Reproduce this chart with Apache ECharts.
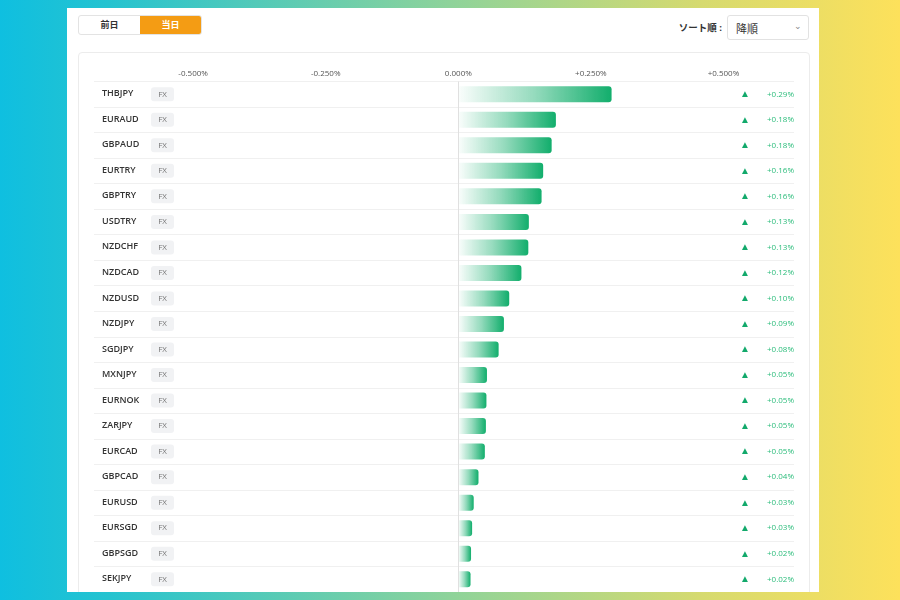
<!DOCTYPE html>
<html>
<head>
<meta charset="utf-8">
<script src="https://cdn.jsdelivr.net/npm/echarts@6/dist/echarts.min.js"></script>
<style>
    html, body { margin: 0; padding: 0; }
    body {
        width: 900px; height: 600px; position: relative; overflow: hidden;
        background: linear-gradient(90deg, #0fbfe0 0%, #25c3d0 12%, #8ed39a 50%, #d6da6f 78%, #fde15b 100%);
        font-family: "Open Sans", "Noto Sans CJK JP", sans-serif;
    }
    .panel { position: absolute; left: 67px; top: 8px; width: 752px; height: 584px; background: #fff; overflow: hidden; }
    .btns { position: absolute; left: 11px; top: 7px; width: 124px; height: 20px; border: 1px solid #e3e3e3; border-radius: 3px; overflow: hidden; display: flex; box-sizing: border-box; }
    .btns div { flex: 1; text-align: center; font-size: 9px; font-weight: bold; line-height: 18px; color: #333; }
    .btns .on { background: #f49c14; color: #fff; }
    .sortlbl { position: absolute; right: 97px; top: 12px; font-size: 9.5px; font-weight: bold; color: #333; }
    .select { position: absolute; left: 660px; top: 7px; width: 82px; height: 25px; border: 1px solid #e2e2e2; border-radius: 3px; box-sizing: border-box; }
    .select span { position: absolute; left: 8px; top: 4px; font-size: 11px; color: #333; }
    .select i { position: absolute; right: 6px; top: 3px; font-style: normal; font-size: 9px; color: #888; }
    .card { position: absolute; left: 11px; top: 44px; width: 732px; height: 600px; border: 1px solid #ececec; border-radius: 4px; box-sizing: border-box; }
    #container { position: absolute; left: 0; top: 0; width: 900px; height: 592px; }
</style>
</head>
<body>
<div class="panel">
    <div class="btns"><div>前日</div><div class="on">当日</div></div>
    <div class="sortlbl">ソート順 :</div>
    <div class="select"><span>降順</span><i>⌄</i></div>
    <div class="card"></div>
</div>
<div id="container"></div>
<script>
var pairs = ['THBJPY','EURAUD','GBPAUD','EURTRY','GBPTRY','USDTRY','NZDCHF','NZDCAD','NZDUSD','NZDJPY',
    'SGDJPY','MXNJPY','EURNOK','ZARJPY','EURCAD','GBPCAD','EURUSD','EURSGD','GBPSGD','SEKJPY'];
var changes = [0.289, 0.184, 0.176, 0.160, 0.157, 0.133, 0.132, 0.119, 0.096, 0.086,
    0.076, 0.054, 0.053, 0.052, 0.050, 0.038, 0.029, 0.026, 0.024, 0.023];
var tickValues = [-0.5, -0.25, 0, 0.25, 0.5];

var dom = document.getElementById('container');
var myChart = echarts.init(dom, null, {renderer: 'canvas'});

function pct(v, digits) {
    var s = Math.abs(v).toFixed(digits) + '%';
    if (v > 0) return '+' + s;
    if (v < 0) return '-' + s;
    return s;
}

var option = {
    animation: false,
    textStyle: {fontFamily: 'Open Sans'},
    grid: {left: 94, right: 106, top: 81.5, height: 514},
    xAxis: {
        type: 'value',
        position: 'top',
        min: -0.687,
        max: 0.633,
        axisLine: {show: false},
        axisTick: {show: false},
        splitLine: {show: false},
        axisLabel: {
            customValues: tickValues,
            margin: 4,
            fontSize: 8,
            color: '#555',
            formatter: function (v) { return pct(v, 3); }
        }
    },
    yAxis: [
        {
            type: 'category',
            inverse: true,
            data: pairs,
            axisLine: {show: false},
            axisTick: {show: false},
            splitLine: {show: true, lineStyle: {color: '#f0f0f0', width: 1}},
            axisLabel: {
                inside: true,
                align: 'left',
                margin: 8,
                formatter: function (v) { return '{n|' + v + '}{t|FX}'; },
                rich: {
                    n: {width: 49, fontSize: 9, fontWeight: 600, color: '#333', padding: [0, 0, 1, 0]},
                    t: {fontSize: 8, color: '#777', backgroundColor: '#f1f2f4', borderRadius: 3,
                        padding: [3, 6, 3, 6], width: 11, align: 'center'}
                }
            }
        },
        {
            type: 'category',
            inverse: true,
            position: 'right',
            data: pairs,
            axisLine: {show: false},
            axisTick: {show: false},
            splitLine: {show: false},
            axisLabel: {
                inside: true,
                align: 'right',
                margin: 0,
                formatter: function (v, i) { return '{a|▲}{v|' + pct(changes[i], 2) + '}'; },
                rich: {
                    a: {fontSize: 10, color: '#12a96b', padding: [0, 14, 0, 0]},
                    v: {fontSize: 8, color: '#2dbd7c', width: 30, align: 'right'}
                }
            }
        }
    ],
    series: [
        {
            type: 'bar',
            yAxisIndex: 0,
            data: changes,
            barWidth: 16,
            itemStyle: {
                borderRadius: [0, 3, 3, 0],
                color: new echarts.graphic.LinearGradient(0, 0, 1, 0, [
                    {offset: 0, color: 'rgba(18,174,108,0.02)'},
                    {offset: 0.5, color: 'rgba(18,174,108,0.45)'},
                    {offset: 1, color: 'rgba(18,174,108,1)'}
                ])
            },
            markLine: {
                silent: true,
                symbol: ['none', 'none'],
                label: {show: false},
                lineStyle: {color: '#e0e0e0', type: 'solid', width: 1},
                data: [{xAxis: 0}]
            }
        }
    ]
};
myChart.setOption(option);
</script>
</body>
</html>
